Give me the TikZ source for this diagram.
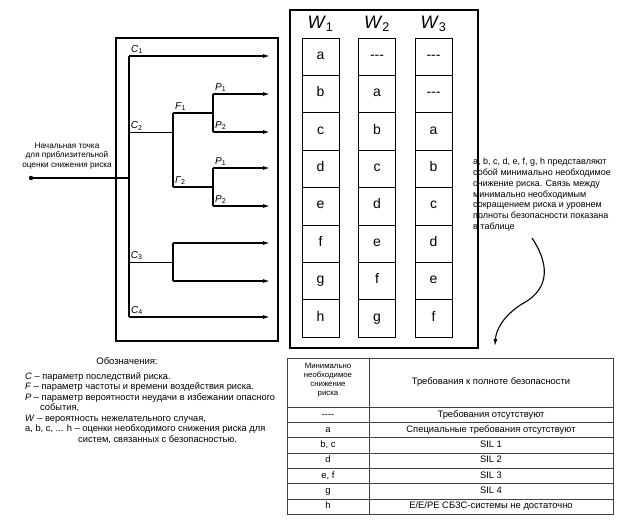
\documentclass[tikz,border=0pt]{standalone}
\usepackage{fontspec}
\setmainfont{Liberation Sans}
\usetikzlibrary{arrows.meta, positioning, calc}
\newcommand{\rtdash}{-{}-{}-}
\tikzset{
  rtline/.style={line width=1.3pt},
  rtflow/.style={line width=1.3pt, -{Latex[length=7pt,width=4pt]}},
  rtframe/.style={draw, line width=1.2pt},
  rtcell/.style={draw, line width=1pt, minimum width=37pt, minimum height=37.4pt,
                 inner sep=0pt, text height=8pt, text depth=3pt,
                 font=\fontsize{14}{14}\selectfont},
  rthead/.style={font=\fontsize{18}{18}\selectfont, inner sep=0pt},
  rtlabel/.style={font=\fontsize{10}{10}\selectfont, inner sep=1.5pt},
  rtnote/.style={font=\fontsize{9}{10.8}\selectfont, align=left, inner sep=0pt},
  rtgrid/.style={line width=0.6pt, draw=black!75},
  rttab/.style={font=\fontsize{9.4}{9.4}\selectfont, align=center, inner sep=0pt,
                text height=6.8pt, text depth=2pt},
}
\begin{document}
\begin{tikzpicture}[x=1pt, y=-1pt]
  \useasboundingbox (0,0) rectangle (619,523);
  % frames
  \draw[rtframe] (116,38) rectangle (278,341);
  \draw[rtframe] (290,10) rectangle (478,348);
  % tree
  \coordinate (start) at (31,178);
  \coordinate (root) at (129,178);
  \coordinate (c1) at (129,56);
  \coordinate (c2) at (129,132);
  \coordinate (c3) at (129,262);
  \coordinate (c4) at (129,317);
  \coordinate (f) at (173,132);
  \coordinate (f1) at (173,113);
  \coordinate (f2) at (173,187);
  \coordinate (g) at (173,262);
  \coordinate (g1) at (173,243);
  \coordinate (g2) at (173,281);
  \coordinate (p1) at (213,113);
  \coordinate (p1a) at (213,94);
  \coordinate (p1b) at (213,132);
  \coordinate (p2) at (213,187);
  \coordinate (p2a) at (213,168);
  \coordinate (p2b) at (213,206);
  \foreach \y [count=\i] in {56,94,132,168,206,243,281,317}
    \coordinate (e\i) at (270,\y);
  \fill (start) circle (2.2pt);
  \node[font=\fontsize{8.2}{9.8}\selectfont, align=center, inner sep=0pt] (startlbl) at (67,156)
    {Начальная точка\\для приблизительной\\оценки снижения риска};
  \draw[rtline] (start) -- (root);
  \draw[rtline] (c1) -- (c4);
  \draw[rtflow] (c1) -- node[rtlabel, pos=0, above right] {\textit{C}\textsubscript{1}} (e1);
  \draw[line width=0.9pt] (c2) -- node[rtlabel, pos=0, above right] {\textit{C}\textsubscript{2}} (f);
  \draw[rtline] (f1) -- (f2);
  \draw[rtline] (f1) -- node[rtlabel, pos=0, above right] {\textit{F}\textsubscript{1}} (p1);
  \draw[rtline] (f2) -- node[rtlabel, pos=0, above right] {\textit{Γ}\textsubscript{2}} (p2);
  \draw[rtline] (p1a) -- (p1b);
  \draw[rtline] (p2a) -- (p2b);
  \draw[rtflow] (p1a) -- node[rtlabel, pos=0, above right] {\textit{P}\textsubscript{1}} (e2);
  \draw[rtflow] (p1b) -- node[rtlabel, pos=0, above right] {\textit{P}\textsubscript{2}} (e3);
  \draw[rtflow] (p2a) -- node[rtlabel, pos=0, above right] {\textit{P}\textsubscript{1}} (e4);
  \draw[rtflow] (p2b) -- node[rtlabel, pos=0, above right] {\textit{P}\textsubscript{2}} (e5);
  \draw[line width=0.9pt] (c3) -- node[rtlabel, pos=0, above right] {\textit{C}\textsubscript{3}} (g);
  \draw[rtline] (g1) -- (g2);
  \draw[rtflow] (g1) -- (e6);
  \draw[rtflow] (g2) -- (e7);
  \draw[rtflow] (c4) -- node[rtlabel, pos=0, above right] {\textit{C}\textsubscript{4}} (e8);
  % W columns
  \foreach \cx/\wi/\entries in {320.5/1/{a,b,c,d,e,f,g,h},
                                377/2/{\rtdash,a,b,c,d,e,f,g},
                                433.5/3/{\rtdash,\rtdash,a,b,c,d,e,f}}{
    \node[rthead] (wh\wi) at (\cx,24) {\textit{W}\textsubscript{\wi}};
    \foreach \txt [count=\r] in \entries
      \node[rtcell] (w\wi-\r) at (\cx,{38+37.4*(\r-0.5)}) {\txt};
  }
  % note
  \node[rtnote, anchor=north west] (note) at (473,158)
    {a, b, c, d, e, f, g, h представляют\\собой минимально необходимое\\снижение риска. Связь между\\минимально необходимым\\сокращением риска и уровнем\\полноты безопасности показана\\в таблице};
  \coordinate (curvetop) at (532,238);
  \coordinate (curvebot) at (495,346);
  \draw[line width=1.1pt, -{Latex[length=7pt,width=4pt]}] (curvetop)
    .. controls (548,262) and (552,288) .. (522,304)
    .. controls (503,316) and (496,330) .. (curvebot);
  % legend
  \node[font=\fontsize{9.5}{10}\selectfont, inner sep=0pt] (legtitle) at (127,361) {Обозначения:};
  \node[font=\fontsize{9.3}{10.5}\selectfont, align=left, inner sep=0pt, anchor=north west] (legend) at (25,372)
    {\textit{C} – параметр последствий риска.\\
     \textit{F} – параметр частоты и времени воздействия риска.\\
     \textit{P} – параметр вероятности неудачи в избежании опасного\\
     \hspace*{15pt}события,\\
     \textit{W} – вероятность нежелательного случая,\\
     a, b, c, ... h – оценки необходимого снижения риска для\\
     \hspace*{53pt}систем, связанных с безопасностью.};
  % table
  \draw[rtgrid] (287,358) rectangle (613,514);
  \draw[rtgrid] (369,358) -- (369,514);
  \foreach \r in {0,...,6}
    \draw[rtgrid] (287,{407+15.3*\r}) -- (613,{407+15.3*\r});
  \node[rttab, font=\fontsize{7.8}{9}\selectfont, text height=, text depth=] (thl) at (328,380)
    {Минимально\\необходимое\\снижение\\риска};
  \node[rttab] (thr) at (491,382) {Требования к полноте безопасности};
  \foreach \lft/\rgt [count=\r] in {{-{}-{}-{}-}/{Требования отсутствуют},
                                    a/{Специальные требования отсутствуют},
                                    {b, c}/{SIL 1}, d/{SIL 2}, {e, f}/{SIL 3}, g/{SIL 4},
                                    h/{E/E/PE СБЗС-системы не достаточно}}{
    \node[rttab] (tl\r) at (328,{407+15.3*(\r-0.5)}) {\lft};
    \node[rttab] (tr\r) at (491,{407+15.3*(\r-0.5)}) {\rgt};
  }
\end{tikzpicture}
\end{document}
